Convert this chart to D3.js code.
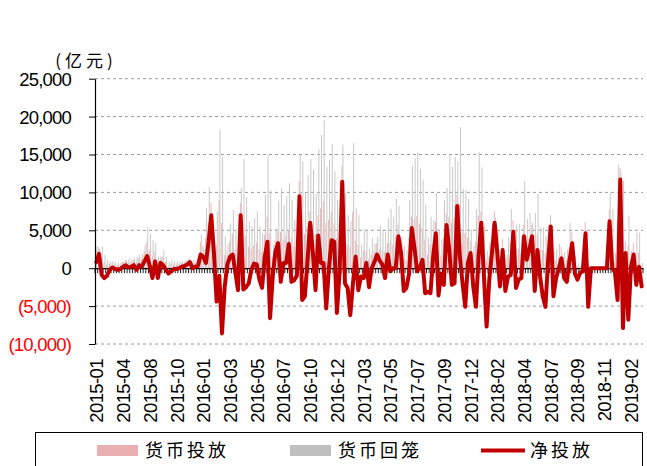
<!DOCTYPE html>
<html><head><meta charset="utf-8">
<script src="https://cdn.jsdelivr.net/npm/d3@7"></script>
<style>body{margin:0;background:#fff}svg{display:block}</style>
</head><body>
<svg id="c" width="647" height="466"></svg>
<script>
// Tick labels (one every 10 weekly categories)
const tickLabels = ["2015-01","2015-04","2015-08","2015-10","2016-01","2016-03","2016-05","2016-07","2016-10","2016-12","2017-03","2017-05","2017-07","2017-09","2017-12","2018-02","2018-04","2018-07","2018-09","2018-11","2019-02"];
const tickEvery = 10;
const yTicks = [-10000,-5000,0,5000,10000,15000,20000,25000];

// 净投放 (net injection, 亿元)
const netValues = [
800,1900,-900,-1300,-1000,-200,100,-100,-200,-100,
200,400,100,200,400,-200,400,200,900,1600,
300,-1300,900,-1300,700,400,-200,-700,-400,-100,
-100,
0,200,300,500,800,0,200,300,1800,1500,
700,3500,7000,2000,-4400,-1000,-8600,-2500,500,1500,
1800,-500,-2900,7000,-2800,-2500,-2000,-200,600,500,
-1500,-2600,1500,3500,-6600,-1000,2200,3300,-1800,700,
700,3200,-1800,-1600,-1000,9500,-4200,-3700,1000,6000,
2000,-2900,4300,700,700,-5300,0,3700,3500,-5900,
-500,11400,-2000,-2600,-6200,-2000,1500,-2900,-1100,-1300,
700,-2500,0,800,1800,1000,500,-1300,1800,-400,
0,0,4200,2000,-3000,-2600,-700,5300,2700,-400,
0,1100,-3300,-3100,-3300,1500,4600,-3600,-700,-2200,
5700,2500,-2200,-2000,8200,1500,-2000,-5100,700,2000,
-2400,-5100,1500,6000,-1100,-7700,-1500,2000,6000,2000,
-2400,2400,-3000,-1100,-900,4800,-2600,-1500,-1300,4200,
1100,2500,4200,-3000,2400,-1100,-3700,-5100,1000,5500,
-3700,-1300,0,1300,-1300,-1800,1000,3300,-700,-1500,
-600,-400,4600,-5100,
0,0,0,0,0,0,0,
6200,0,-500,-4200,11700,-7900,2000,-6800,200,1800,-2200,200,-2400
];

// 货币投放 (release)
const releaseValues = [
2300,2800,1300,800,500,600,700,500,400,500,
800,1000,900,800,1100,900,1400,1200,2200,3500,
2300,1600,2200,700,1300,1500,800,400,600,500,
500,
600,700,800,1000,1300,700,800,1100,3400,3000,
4000,6000,8600,3500,3000,9000,6000,1700,1800,3500,
4500,2500,1400,8600,6500,4300,2800,2500,3000,3400,
2500,2100,4400,6800,4600,1400,3700,4800,4800,3800,
4300,5000,4000,2900,3600,11500,6300,4500,5500,7500,
5800,4500,7000,7900,8800,6000,6400,7400,5800,4000,
5100,13500,4500,3100,2800,7400,3600,3100,1400,2300,
2300,1200,1800,2300,3300,2500,2300,2200,3300,3500,
3100,4100,5700,3500,1300,1100,4000,6800,6500,6900,
5900,5300,3800,1800,3100,3000,6100,2300,1700,4000,
7200,6800,6000,6600,9700,8400,4700,4600,4100,3500,
1300,3500,6900,7500,2500,1000,1500,3500,7500,3500,
300,3900,600,1800,3500,6300,2600,2600,1900,5700,
2900,4000,5700,3300,4400,2400,2400,1900,2600,7000,
900,1100,1400,2800,900,1100,2700,4800,700,300,
100,1300,6100,300,
0,0,0,0,0,0,0,
7700,3500,900,6200,13200,5200,3500,3100,1000,3300,900,2100,300
];

// 货币回笼 (withdrawal)
const withdrawValues = [
2900,2500,2900,1800,1100,900,900,800,700,800,
900,1100,1300,1100,1300,1500,1800,1800,3100,5400,
4600,3700,3300,1500,1500,2400,1500,900,1100,900,
900,
900,900,1000,1100,1100,1100,1100,1500,4400,2500,
7900,10700,7300,2000,7500,18300,14700,4200,3100,5900,
7700,5100,3100,10600,14400,9400,6200,5500,6600,7500,
5500,4600,9700,15000,10300,3100,5300,8900,10600,8400,
9500,11200,9000,6400,7900,15000,14100,9900,12300,14400,
13000,9900,15700,17600,19500,13400,14300,16400,12800,9000,
11400,16300,9900,7000,6200,16500,7900,7000,3100,5100,
5100,2600,4000,3300,4200,5600,5100,4800,6600,7800,
6800,9200,8200,4200,2900,2400,9000,13500,14500,15300,
13100,11700,8400,4100,6800,6400,9900,5100,3700,9000,
10600,15000,13400,14700,14100,18600,10500,10300,9100,5100,
2900,7800,15300,13300,5500,2300,3400,6000,6700,4900,
500,2700,1400,4000,7800,4700,5800,5800,4300,11500,
6500,7300,6000,7300,9800,5400,5400,4300,5800,4700,
2100,2500,3200,1900,2100,2500,6000,3400,1600,700,
300,2900,4900,700,
0,0,0,0,0,0,0,
10000,7800,2000,13700,12800,11500,1600,6900,2300,1900,4700,4700,700
];

const L = 95, R = 643, T = 78.7, B = 344;
const n = netValues.length;
const svg = d3.select('#c');

const x = d3.scaleBand().domain(d3.range(n)).range([L, R]).padding(0);
const bw = x.bandwidth();
const y = d3.scaleLinear().domain([-10000, 25000]).range([B, T]);
const FONT = '"Liberation Sans", Arial, sans-serif';
const CJK = '"Noto Sans CJK SC", sans-serif';

// gridlines
svg.append('g').selectAll('line').data(yTicks.filter(v => v !== 0)).join('line')
  .attr('x1', L).attr('x2', R).attr('y1', d => y(d)).attr('y2', d => y(d))
  .attr('stroke', '#9a9a9a').attr('stroke-width', 1).attr('stroke-dasharray', '3,3');

// bars
const bars = svg.append('g');
bars.selectAll('rect.rel').data(releaseValues).join('rect').attr('class','rel')
  .attr('x', (d,i) => x(i) + bw*0.2).attr('width', 1)
  .attr('y', d => y(Math.max(d,0))).attr('height', d => Math.abs(y(d) - y(0)))
  .attr('fill', '#eeb4b4');
bars.selectAll('rect.wd').data(withdrawValues).join('rect').attr('class','wd')
  .attr('x', (d,i) => x(i) + bw*0.55).attr('width', 1)
  .attr('y', d => y(Math.max(d,0))).attr('height', d => Math.abs(y(d) - y(0)))
  .attr('fill', '#c8c8c8');

// zero axis with category ticks
const zeroY = y(0);
const xAxis = d3.axisBottom(x).tickValues([]).tickSizeOuter(0);
svg.append('g').attr('transform', `translate(0,${zeroY})`).call(xAxis)
  .call(g => g.select('.domain').attr('stroke', '#000').attr('stroke-width', 1.2));
svg.append('g').selectAll('line').data(d3.range(n + 1)).join('line')
  .attr('x1', i => i < n ? x(i) : R).attr('x2', i => i < n ? x(i) : R)
  .attr('y1', zeroY).attr('y2', zeroY + 5)
  .attr('stroke', '#000').attr('stroke-width', 0.9);

// net line
const line = d3.line().x((d,i) => x(i) + bw/2).y(d => y(d));
svg.append('path').datum(netValues).attr('d', line)
  .attr('fill', 'none').attr('stroke', '#c00000').attr('stroke-width', 4)
  .attr('stroke-linejoin', 'round').attr('stroke-linecap', 'round');

// y axis
const fmt = d3.format(',');
const yAxis = d3.axisLeft(y).tickValues(yTicks).tickSize(6).tickSizeOuter(0)
  .tickFormat(v => v < 0 ? '(' + fmt(-v) + ')' : fmt(v));
const ya = svg.append('g').attr('transform', `translate(${L},0)`).call(yAxis);
ya.select('.domain').attr('stroke', '#000').attr('stroke-width', 1.2);
ya.selectAll('.tick line').attr('stroke', '#000');
ya.selectAll('.tick text')
  .attr('x', -24).attr('dy', '0.35em')
  .style('font-family', FONT).style('font-size', '18.5px').style('letter-spacing', '-0.8px')
  .attr('fill', d => d < 0 ? '#ff0000' : '#000');

// unit label
svg.append('text').attr('x', 86).attr('y', 67).attr('text-anchor', 'middle')
  .style('font-family', CJK).style('font-size', '17px').style('letter-spacing', '4px')
  .text('(亿元)');

// x tick labels
svg.append('g').selectAll('text').data(tickLabels).join('text')
  .attr('transform', (d,k) => `translate(${x(k*tickEvery) + bw/2 + 0.5},359) rotate(-90)`)
  .attr('text-anchor', 'end').attr('dy', '0.35em')
  .style('font-family', FONT).style('font-size', '18.5px').style('letter-spacing', '-0.6px')
  .text(d => d);

// legend
const lg = svg.append('g');
lg.append('rect').attr('x', 35.5).attr('y', 432.5).attr('width', 607).attr('height', 45)
  .attr('fill', 'none').attr('stroke', '#000').attr('stroke-width', 1);
lg.append('rect').attr('x', 97).attr('y', 445).attr('width', 41).attr('height', 11).attr('fill', '#e8b0b0');
lg.append('text').attr('x', 145).attr('y', 457).text('货币投放');
lg.append('rect').attr('x', 290).attr('y', 445).attr('width', 41).attr('height', 11).attr('fill', '#bfbfbf');
lg.append('text').attr('x', 338).attr('y', 457).text('货币回笼');
lg.append('line').attr('x1', 481).attr('x2', 525).attr('y1', 450.5).attr('y2', 450.5)
  .attr('stroke', '#c00000').attr('stroke-width', 4);
lg.append('text').attr('x', 530).attr('y', 457).text('净投放');
lg.selectAll('text').style('font-family', CJK).style('font-size', '18px').style('letter-spacing', '3px').attr('fill', '#000');
</script>
</body></html>
